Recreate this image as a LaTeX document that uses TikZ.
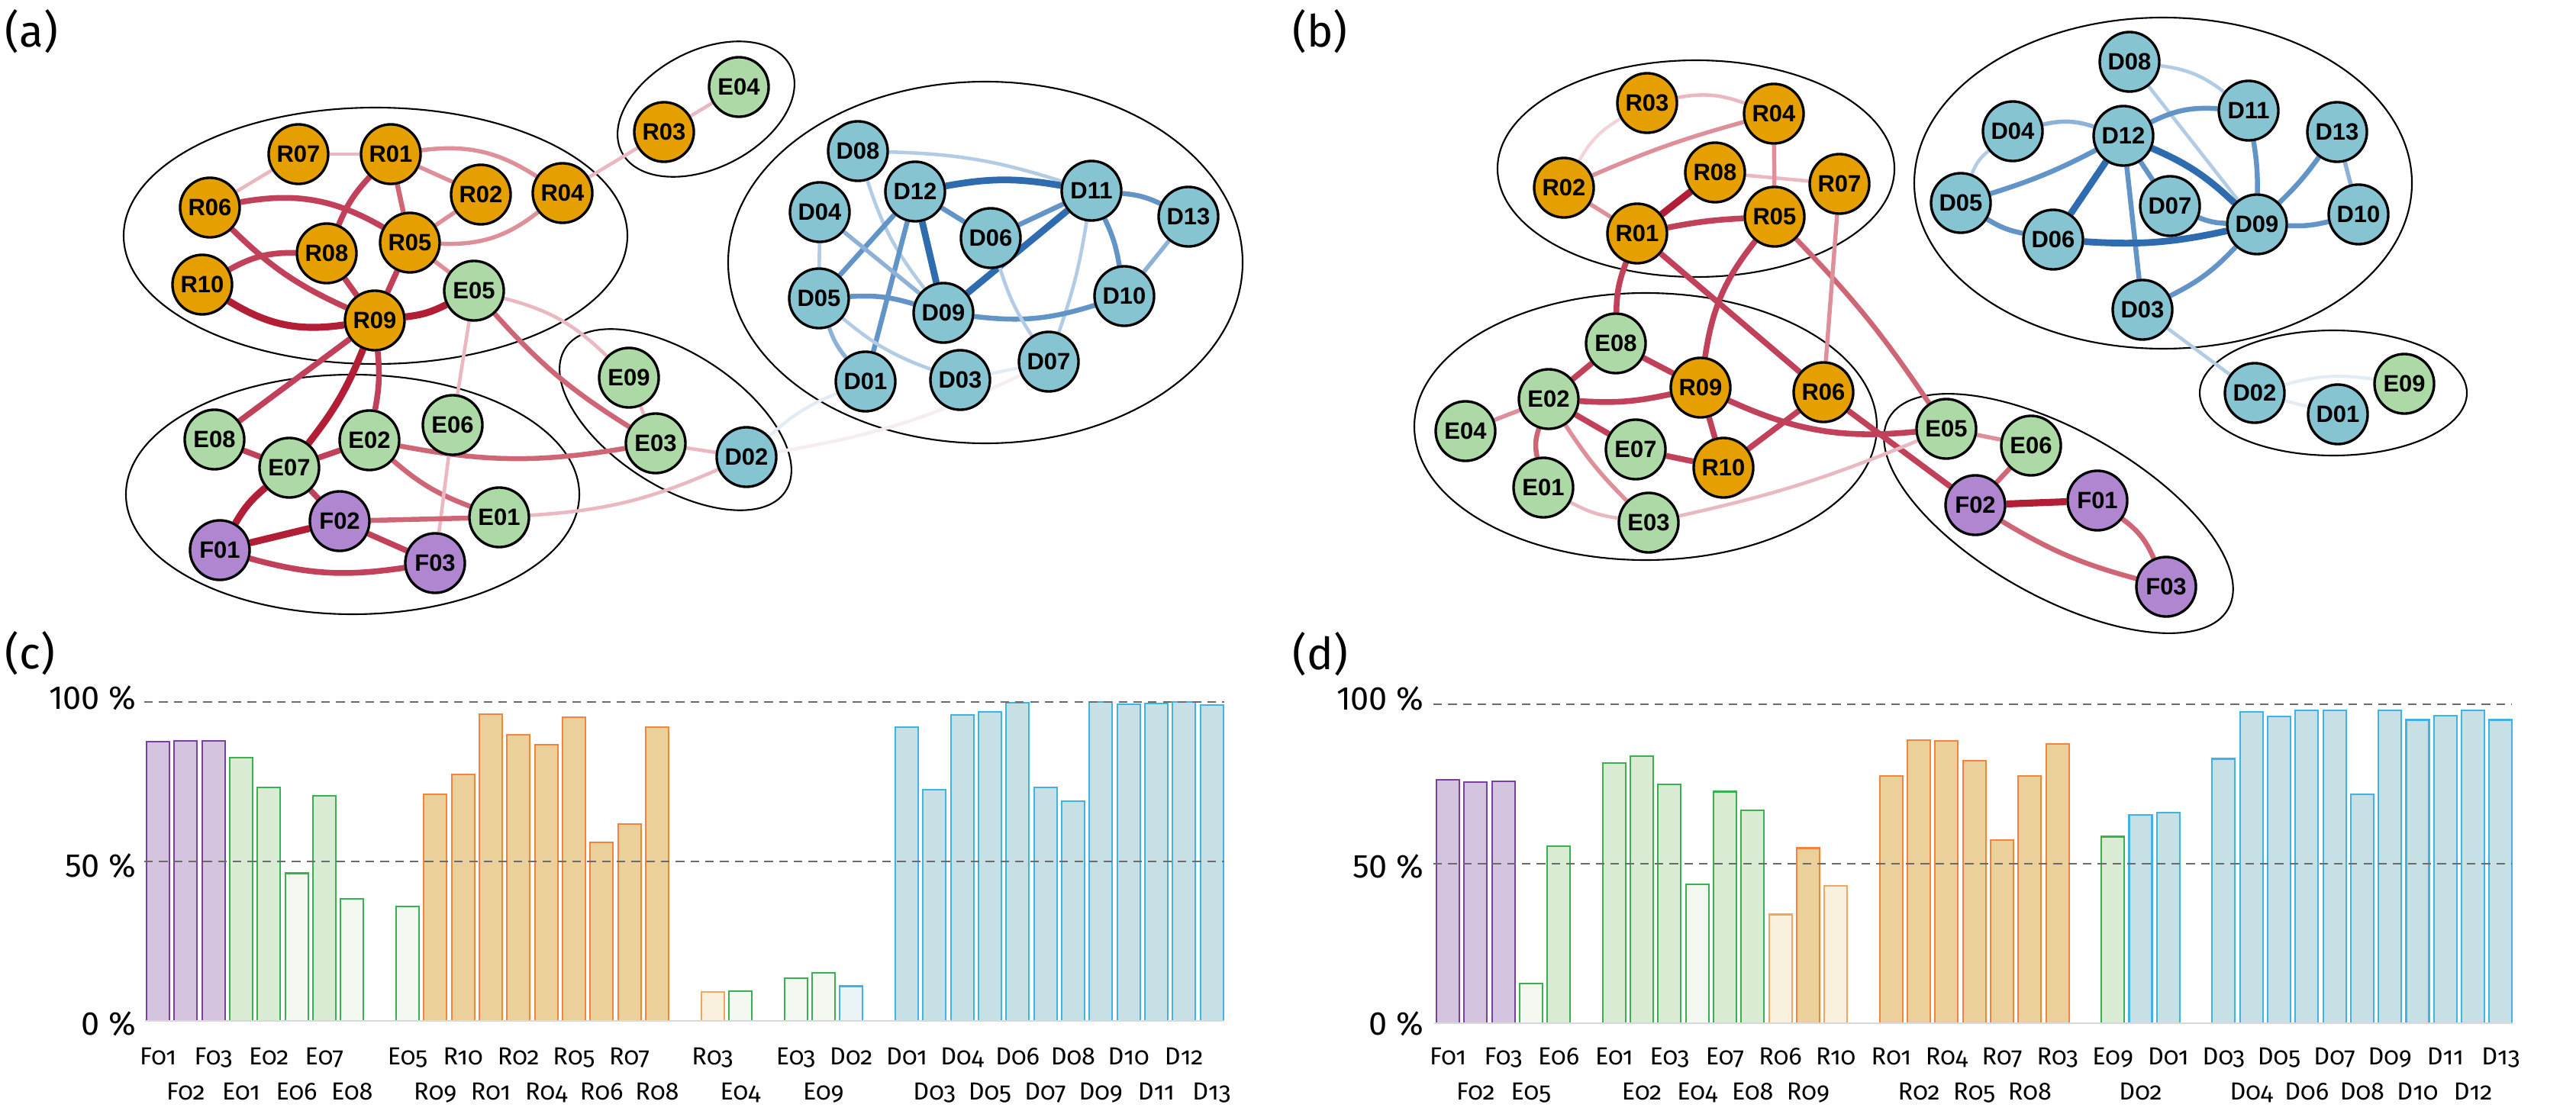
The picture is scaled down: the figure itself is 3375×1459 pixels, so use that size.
\documentclass[tikz,border=0pt]{standalone}
\usepackage{fontspec}
\setmainfont{Liberation Sans}
\newfontfamily\barfont[Numbers=OldStyle]{Fira Sans}
\newfontfamily\axfont{Fira Sans}
\pgfdeclarelayer{ell}
\pgfdeclarelayer{edg}
\pgfsetlayers{ell,edg,main}
\definecolor{cR}{HTML}{E5A000}
\definecolor{cE}{HTML}{ADD9A6}
\definecolor{cD}{HTML}{87C4D2}
\definecolor{cF}{HTML}{B086D0}
\definecolor{er0}{HTML}{F1D3D8}
\definecolor{er1}{HTML}{E9B8C0}
\definecolor{er2}{HTML}{DD8F9A}
\definecolor{er3}{HTML}{CF6676}
\definecolor{er4}{HTML}{C2415A}
\definecolor{er5}{HTML}{B21E36}
\definecolor{eb0}{HTML}{E2ECF5}
\definecolor{eb1}{HTML}{B3CCE5}
\definecolor{eb2}{HTML}{8EB1D7}
\definecolor{eb3}{HTML}{6294C8}
\definecolor{eb4}{HTML}{2F6CAF}
\definecolor{ebf}{HTML}{F4EEF1}
\definecolor{HTMLP}{HTML}{7B3FA0}
\definecolor{HTMLPf}{HTML}{D5C4E0}
\definecolor{gB}{HTML}{38B150}
\definecolor{gF}{HTML}{DAEBD4}
\definecolor{gl}{HTML}{F3F8F0}
\definecolor{oB}{HTML}{F2853A}
\definecolor{oF}{HTML}{EBD09B}
\definecolor{oLB}{HTML}{F0A560}
\definecolor{oL}{HTML}{FAF0DE}
\definecolor{bB}{HTML}{3DB3E6}
\definecolor{bF}{HTML}{C7E0E6}
\definecolor{bl}{HTML}{EAF4F7}
\tikzset{
  gn/.style={circle, draw=black, line width=0.95pt, minimum size=0.78cm, inner sep=0pt,
    font=\bfseries\fontsize{8.8}{9}\selectfont},
  nR/.style={gn, fill=cR}, nE/.style={gn, fill=cE}, nD/.style={gn, fill=cD}, nF/.style={gn, fill=cF},
  r0/.style={draw=er0, line width=1.2pt},
  r1/.style={draw=er1, line width=1.3pt},
  r2/.style={draw=er2, line width=1.55pt},
  r3/.style={draw=er3, line width=1.85pt},
  r4/.style={draw=er4, line width=2.15pt},
  r5/.style={draw=er5, line width=2.6pt},
  b0/.style={draw=eb0, line width=1.2pt},
  b1/.style={draw=eb1, line width=1.3pt},
  b2/.style={draw=eb2, line width=1.55pt},
  b3/.style={draw=eb3, line width=1.85pt},
  b4/.style={draw=eb4, line width=2.5pt},
  bfaint/.style={draw=ebf, line width=1.3pt},
  grp/.style={draw=black, line width=0.6pt},
  barP/.style={draw=HTMLP, fill=HTMLPf, line width=0.6pt},
  barG/.style={draw=gB, fill=gF, line width=0.6pt},
  barg/.style={draw=gB, fill=gl, line width=0.6pt},
  barO/.style={draw=oB, fill=oF, line width=0.6pt},
  baro/.style={draw=oLB, fill=oL, line width=0.6pt},
  barB/.style={draw=bB, fill=bF, line width=0.6pt},
  barb/.style={draw=bB, fill=bl, line width=0.6pt},
  barlab/.style={font=\barfont\fontsize{9.2}{10}\selectfont, inner sep=0pt, anchor=base},
  pct/.style={font=\axfont\fontsize{12.3}{13}\selectfont, inner sep=0pt, anchor=base east},
  plab/.style={font=\axfont\fontsize{16.5}{17}\selectfont, inner sep=0pt, anchor=base west},
  dashln/.style={draw=black!58, line width=0.6pt, dash pattern=on 3.2pt off 2.3pt},
  axln/.style={draw=black!15, line width=0.7pt},
}
\begin{document}
\begin{tikzpicture}[x=0.01cm, y=0.01cm]
\useasboundingbox (0,0) rectangle (3375,1459);
\begin{scope}[shift={(0,1459)}]
% ---------------- panel labels
\node[plab] (la) at (6,-62) {(a)};
\node[plab] (lb) at (1693,-62) {(b)};
\node[plab] (lc) at (6,-876) {(c)};
\node[plab] (ld) at (1693,-877) {(d)};

% ---------------- panel (a) nodes
\node[nR] (aR07) at (391,-202) {R07};
\node[nR] (aR01) at (512,-202) {R01};
\node[nR] (aR02) at (630,-255) {R02};
\node[nR] (aR04) at (737,-253) {R04};
\node[nR] (aR06) at (275,-272) {R06};
\node[nR] (aR08) at (428,-332) {R08};
\node[nR] (aR05) at (537,-318) {R05};
\node[nR] (aR10) at (265,-373) {R10};
\node[nR] (aR09) at (491,-420) {R09};
\node[nE] (aE05) at (621,-381) {E05};
\node[nR] (aR03) at (870,-173) {R03};
\node[nE] (aE04) at (968,-114) {E04};
\node[nE] (aE09) at (824,-495) {E09};
\node[nE] (aE03) at (859,-581) {E03};
\node[nD] (aD02) at (978,-599) {D02};
\node[nE] (aE08) at (281,-576) {E08};
\node[nE] (aE07) at (379,-613) {E07};
\node[nE] (aE02) at (484,-577) {E02};
\node[nE] (aE06) at (593,-557) {E06};
\node[nE] (aE01) at (654,-678) {E01};
\node[nF] (aF02) at (445,-683) {F02};
\node[nF] (aF01) at (288,-721) {F01};
\node[nF] (aF03) at (570,-738) {F03};
\node[nD] (aD08) at (1124,-198) {D08};
\node[nD] (aD12) at (1199,-251) {D12};
\node[nD] (aD11) at (1430,-250) {D11};
\node[nD] (aD04) at (1074,-278) {D04};
\node[nD] (aD13) at (1557,-284) {D13};
\node[nD] (aD06) at (1298,-312) {D06};
\node[nD] (aD05) at (1073,-391) {D05};
\node[nD] (aD09) at (1236,-410) {D09};
\node[nD] (aD10) at (1473,-388) {D10};
\node[nD] (aD07) at (1374,-474) {D07};
\node[nD] (aD01) at (1134,-500) {D01};
\node[nD] (aD03) at (1258,-498) {D03};

% ---------------- panel (b) nodes
\node[nR] (bR03) at (2158,-135) {R03};
\node[nR] (bR04) at (2324,-149) {R04};
\node[nR] (bR02) at (2049,-246) {R02};
\node[nR] (bR08) at (2247,-226) {R08};
\node[nR] (bR07) at (2410,-241) {R07};
\node[nR] (bR05) at (2325,-284) {R05};
\node[nR] (bR01) at (2145,-306) {R01};
\node[nE] (bE08) at (2117,-450) {E08};
\node[nR] (bR09) at (2228,-508) {R09};
\node[nR] (bR06) at (2389,-514) {R06};
\node[nE] (bE02) at (2029,-523) {E02};
\node[nE] (bE04) at (1920,-565) {E04};
\node[nE] (bE07) at (2143,-589) {E07};
\node[nR] (bR10) at (2258,-613) {R10};
\node[nE] (bE01) at (2022,-639) {E01};
\node[nE] (bE03) at (2160,-685) {E03};
\node[nE] (bE05) at (2550,-562) {E05};
\node[nE] (bE06) at (2661,-584) {E06};
\node[nF] (bF02) at (2588,-662) {F02};
\node[nF] (bF01) at (2748,-656) {F01};
\node[nF] (bF03) at (2838,-769) {F03};
\node[nD] (bD08) at (2790,-81) {D08};
\node[nD] (bD11) at (2946,-145) {D11};
\node[nD] (bD04) at (2637,-172) {D04};
\node[nD] (bD12) at (2782,-178) {D12};
\node[nD] (bD13) at (3062,-173) {D13};
\node[nD] (bD05) at (2569,-266) {D05};
\node[nD] (bD07) at (2843,-270) {D07};
\node[nD] (bD09) at (2957,-294) {D09};
\node[nD] (bD10) at (3090,-281) {D10};
\node[nD] (bD06) at (2690,-314) {D06};
\node[nD] (bD03) at (2807,-406) {D03};
\node[nD] (bD02) at (2954,-515) {D02};
\node[nD] (bD01) at (3063,-543) {D01};
\node[nE] (bE09) at (3150,-503) {E09};

% ---------------- group outlines
\begin{pgfonlayer}{ell}
\draw[grp] (492,-309) ellipse [x radius=330, y radius=168];
\draw[grp] (462,-648) ellipse [x radius=297, y radius=157];
\draw[grp, rotate around={27:(925,-143)}] (925,-143) ellipse [x radius=124, y radius=77];
\draw[grp, rotate around={-33:(885,-550)}] (885,-550) ellipse [x radius=172, y radius=87];
\draw[grp] (1291,-344) ellipse [x radius=337, y radius=237];
\draw[grp] (2222,-221) ellipse [x radius=260, y radius=142];
\draw[grp] (2156,-559) ellipse [x radius=303, y radius=175];
\draw[grp] (2834,-240) ellipse [x radius=326, y radius=217];
\draw[grp] (3057,-515) ellipse [x radius=175, y radius=82];
\draw[grp, rotate around={-29.3:(2697,-673)}] (2697,-673) ellipse [x radius=255, y radius=109];
\end{pgfonlayer}

% ---------------- panel (a) edges
\begin{pgfonlayer}{edg}
\draw[r1] (aR07) -- (aR01);
\draw[r1] (aR07) -- (aR06);
\draw[r2] (aR01) to[bend left=20] (aR04);
\draw[r2] (aR01) -- (aR02);
\draw[r4] (aR01) to[bend right=10] (aR08);
\draw[r3] (aR01) -- (aR05);
\draw[r4] (aR06) to[bend left=20] (aR05);
\draw[r4] (aR06) to[bend right=10] (aR09);
\draw[r4] (aR10) to[bend left=15] (aR08);
\draw[r5] (aR10) to[bend right=20] (aR09);
\draw[r4] (aR08) -- (aR09);
\draw[r4] (aR05) -- (aR09);
\draw[r2] (aR02) -- (aR05);
\draw[r2] (aR04) to[bend left=20] (aR05);
\draw[r2] (aR05) -- (aE05);
\draw[r5] (aR09) to[bend right=10] (aE05);
\draw[r1] (aR04) -- (aR03);
\draw[r1] (aR03) -- (aE04);
\draw[r1] (aE05) to[bend left=15] (aE09);
\draw[r3] (aE05) to[bend right=8] (aE03);
\draw[r1] (aE05) -- (aE06);
\draw[r1] (aE09) -- (aE03);
\draw[r1] (aE03) -- (aD02);
\draw[r3] (aE03) to[bend left=10] (aE02);
\draw[r1] (aD02) to[bend left=10] (aE01);
\draw[r4] (aR09) -- (aE08);
\draw[r5] (aR09) to[bend left=8] (aE07);
\draw[r4] (aR09) to[bend left=8] (aE02);
\draw[r4] (aE08) -- (aE07);
\draw[r4] (aE07) -- (aE02);
\draw[r5] (aE07) to[bend right=10] (aF01);
\draw[r4] (aE07) -- (aF02);
\draw[r3] (aE02) to[bend right=10] (aE01);
\draw[r1] (aE06) -- (aF03);
\draw[r3] (aF02) -- (aE01);
\draw[r5] (aF01) -- (aF02);
\draw[r4] (aF01) to[bend right=12] (aF03);
\draw[r4] (aF02) -- (aF03);
\draw[b1] (aD08) to[bend left=8] (aD11);
\draw[b1] (aD08) to[bend right=10] (aD09);
\draw[b4] (aD12) to[bend left=10] (aD11);
\draw[b3] (aD12) -- (aD06);
\draw[b4] (aD12) -- (aD09);
\draw[b3] (aD12) -- (aD05);
\draw[b3] (aD12) -- (aD01);
\draw[b2] (aD04) -- (aD09);
\draw[b1] (aD04) -- (aD05);
\draw[b3] (aD11) -- (aD06);
\draw[b4] (aD11) -- (aD09);
\draw[b3] (aD11) to[bend left=10] (aD13);
\draw[b3] (aD11) to[bend left=8] (aD10);
\draw[b1] (aD11) to[bend left=5] (aD07);
\draw[b2] (aD13) -- (aD10);
\draw[b3] (aD05) to[bend left=10] (aD09);
\draw[b2] (aD05) to[bend right=10] (aD01);
\draw[b1] (aD05) to[bend right=10] (aD03);
\draw[b3] (aD09) to[bend right=12] (aD10);
\draw[b1] (aD06) to[bend right=8] (aD07);
\draw[b0] (aD03) -- (aD07);
\draw[b0] (aD02) to[bend left=10] (aD01);
\draw[bfaint] (aD02) to[bend right=8] (aD07);

% ---------------- panel (b) edges
\draw[r0] (bR02) to[bend left=15] (bR03);
\draw[r1] (bR03) to[bend left=15] (bR04);
\draw[r2] (bR02) to[bend left=4] (bR04);
\draw[r1] (bR08) -- (bR07);
\draw[r2] (bR04) -- (bR05);
\draw[r2] (bR02) -- (bR01);
\draw[r5] (bR01) -- (bR08);
\draw[r4] (bR01) to[bend left=4] (bR05);
\draw[r4] (bR01) to[bend right=10] (bE08);
\draw[r4] (bR01) -- (bR06);
\draw[r4] (bR05) to[bend right=15] (bR09);
\draw[r3] (bR05) to[bend left=5] (bE05);
\draw[r2] (bR07) -- (bR06);
\draw[r4] (bE08) -- (bE02);
\draw[r4] (bE08) -- (bR09);
\draw[r4] (bE02) to[bend right=8] (bR09);
\draw[r2] (bE02) -- (bE04);
\draw[r4] (bE02) -- (bE07);
\draw[r3] (bE02) to[bend right=15] (bE01);
\draw[r2] (bE02) to[bend right=6] (bE03);
\draw[r4] (bE07) -- (bR10);
\draw[r4] (bR09) -- (bR10);
\draw[r4] (bR10) -- (bR06);
\draw[r4] (bR09) to[bend right=15] (bE05);
\draw[r4] (bR06) -- (bF02);
\draw[r1] (bE01) to[bend right=10] (bE03);
\draw[r1] (bE03) to[bend right=5] (bE05);
\draw[r2] (bE05) -- (bE06);
\draw[r3] (bE06) -- (bF02);
\draw[r5] (bF02) -- (bF01);
\draw[r3] (bF01) to[bend left=15] (bF03);
\draw[r3] (bF02) to[bend right=8] (bF03);
\draw[b1] (bD08) to[bend left=15] (bD11);
\draw[b1] (bD08) -- (bD09);
\draw[b3] (bD12) to[bend left=15] (bD11);
\draw[b2] (bD12) to[bend right=15] (bD04);
\draw[b1] (bD04) to[bend right=15] (bD05);
\draw[b3] (bD12) to[bend left=5] (bD05);
\draw[b4] (bD12) -- (bD06);
\draw[b3] (bD12) -- (bD07);
\draw[b4] (bD12) to[bend left=10] (bD09);
\draw[b3] (bD12) -- (bD03);
\draw[b3] (bD11) to[bend left=5] (bD09);
\draw[b3] (bD13) to[bend left=5] (bD09);
\draw[b2] (bD13) -- (bD10);
\draw[b3] (bD07) to[bend right=10] (bD09);
\draw[b3] (bD09) to[bend right=8] (bD10);
\draw[b3] (bD05) to[bend right=10] (bD06);
\draw[b4] (bD06) to[bend right=8] (bD09);
\draw[b3] (bD09) to[bend left=10] (bD03);
\draw[b1] (bD03) -- (bD02);
\draw[b0] (bD02) to[bend left=12] (bE09);
\draw[b0] (bD02) -- (bD01);
\end{pgfonlayer}

% ---------------- panel (c) bars
\foreach \ii/\vv/\st/\lb/\rw in {0/87.6/barP/F01/1395, 1/87.8/barP/F02/1441, 2/87.9/barP/F03/1395,
  3/82.5/barG/E01/1441, 4/73.2/barG/E02/1395, 5/46.3/barg/E06/1441, 6/70.5/barG/E07/1395,
  7/38.2/barg/E08/1441, 9/35.8/barg/E05/1395, 10/71.0/barO/R09/1441, 11/77.3/barO/R10/1395,
  12/96.2/barO/R01/1441, 13/89.7/barO/R02/1395, 14/86.5/barO/R04/1441, 15/95.3/barO/R05/1395,
  16/55.9/barO/R06/1441, 17/61.7/barO/R07/1395, 18/92.2/barO/R08/1441, 20/9.2/baro/R03/1395,
  21/9.4/barg/E04/1441, 23/13.3/barg/E03/1395, 24/15.0/barg/E09/1441, 25/10.9/barb/D02/1395,
  27/92.1/barB/D01/1395, 28/72.5/barB/D03/1441, 29/96.0/barB/D04/1395, 30/96.8/barB/D05/1441,
  31/99.7/barB/D06/1395, 32/73.3/barB/D07/1441, 33/68.8/barB/D08/1395, 34/99.9/barB/D09/1441,
  35/99.2/barB/D10/1395, 36/99.5/barB/D11/1441, 37/99.9/barB/D12/1395, 38/99.0/barB/D13/1441}{
  \draw[\st] ({192+36.33*\ii},-1338) rectangle ({222+36.33*\ii},{-1338+4.18*\vv});
  \node[barlab] (c\lb) at ({207+36.33*\ii},-\rw) {\lb};
}
\draw[axln] (190,-1338) -- (1604,-1338);
\draw[dashln] (189,-920) -- (1604,-920);
\draw[dashln] (189,-1129) -- (1604,-1129);
\node[pct] (c100) at (179,-929) {100 \%};
\node[pct] (c50) at (179,-1149) {50 \%};
\node[pct] (c0) at (179,-1356) {0 \%};

% ---------------- panel (d) bars
\foreach \ii/\vv/\st/\lb/\rw in {0/76.3/barP/F01/1395, 1/75.7/barP/F02/1441, 2/75.9/barP/F03/1395,
  3/12.5/barg/E05/1441, 4/55.4/barG/E06/1395, 6/81.6/barG/E01/1395, 7/83.8/barG/E02/1441,
  8/74.8/barG/E03/1395, 9/43.6/barg/E04/1441, 10/72.6/barG/E07/1395, 11/66.8/barG/E08/1441,
  12/34.1/baro/R06/1395, 13/54.9/barO/R09/1441, 14/43.1/baro/R10/1395, 16/77.6/barO/R01/1395,
  17/88.7/barO/R02/1441, 18/88.5/barO/R04/1395, 19/82.3/barO/R05/1441, 20/57.5/barO/R07/1395,
  21/77.5/barO/R08/1441, 22/87.5/barO/R03/1395, 24/58.5/barG/E09/1395, 25/65.3/barB/D02/1441,
  26/66.0/barB/D01/1395, 28/82.9/barB/D03/1395, 29/97.7/barB/D04/1441, 30/96.2/barB/D05/1395,
  31/98.0/barB/D06/1441, 32/98.0/barB/D07/1395, 33/71.8/barB/D08/1441, 34/98.0/barB/D09/1395,
  35/95.1/barB/D10/1441, 36/96.5/barB/D11/1395, 37/98.0/barB/D12/1441, 38/95.1/barB/D13/1395}{
  \draw[\st] ({1882+36.3*\ii},-1341) rectangle ({1912+36.3*\ii},{-1341+4.18*\vv});
  \node[barlab] (d\lb) at ({1897+36.3*\ii},-\rw) {\lb};
}
\draw[axln] (1879,-1341) -- (3292,-1341);
\draw[dashln] (1878,-923) -- (3290,-923);
\draw[dashln] (1878,-1132) -- (3290,-1132);
\node[pct] (d100) at (1866,-930) {100 \%};
\node[pct] (d50) at (1866,-1150) {50 \%};
\node[pct] (d0) at (1866,-1356) {0 \%};
\end{scope}
\end{tikzpicture}
\end{document}
